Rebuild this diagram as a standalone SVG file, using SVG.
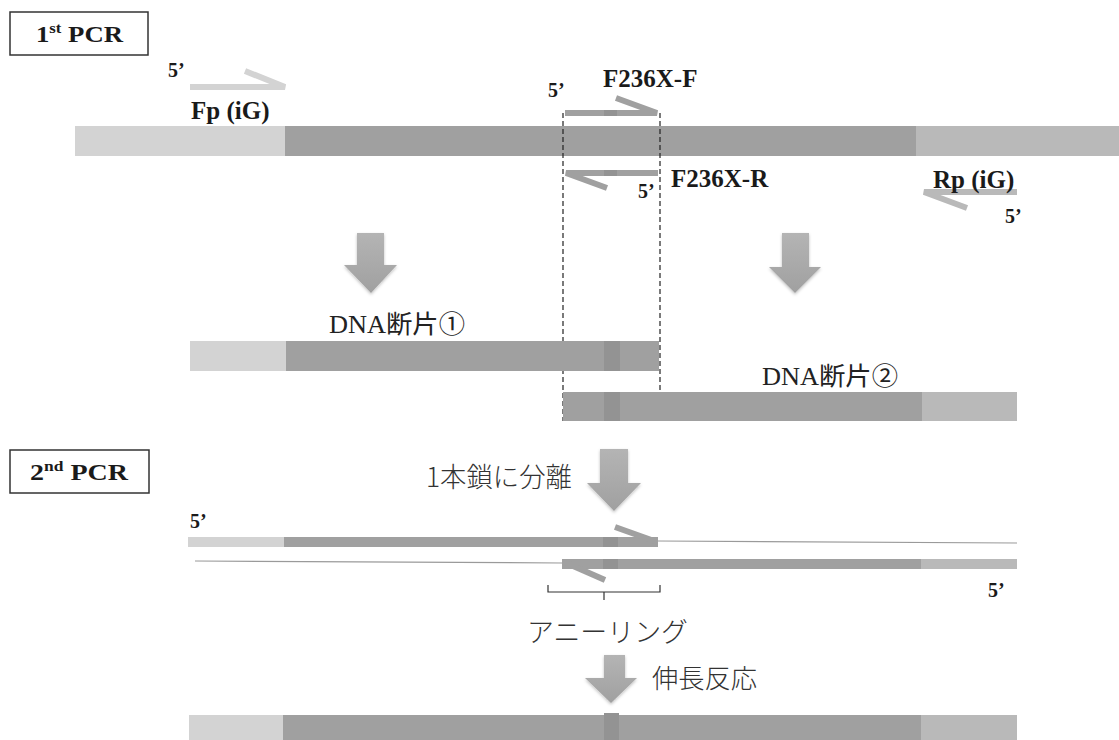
<svg xmlns="http://www.w3.org/2000/svg" width="1119" height="740" viewBox="0 0 1119 740">
<style>
.b{font-family:"Liberation Serif","Times New Roman",serif;font-weight:bold;fill:#1a1a1a}
.r{font-family:"Liberation Serif","Noto Sans CJK JP",serif;fill:#222}
.j{font-family:"Noto Sans CJK JP","Noto Sans",sans-serif;font-weight:300;fill:#333}
.box{fill:#fff;stroke:#333;stroke-width:1.5}
.lt{fill:#d3d3d3}.dk{fill:#a0a0a0}.md{fill:#b9b9b9}.pt{fill:#939393}
.pr{fill:none;stroke-width:6;stroke-linejoin:miter}
.dash{stroke:#222;stroke-width:1.2;stroke-dasharray:5 3;fill:none}
.thin{stroke:#9a9a9a;stroke-width:1.2;fill:none}
.arr{fill:url(#ag);filter:url(#sh)}
</style>
<defs>
<linearGradient id="ag" x1="0" y1="0" x2="0" y2="1">
<stop offset="0" stop-color="#b4b4b4"/><stop offset="1" stop-color="#a0a0a0"/>
</linearGradient>
<filter id="sh" x="-20%" y="-20%" width="140%" height="140%">
<feDropShadow dx="0" dy="1.5" stdDeviation="1.5" flood-color="#000" flood-opacity="0.25"/>
</filter>
</defs>

<g id="label-1st">
<rect class="box" x="10" y="12" width="138" height="43"/>
<text class="b" x="36" y="42" font-size="24" textLength="87" lengthAdjust="spacingAndGlyphs">1<tspan font-size="15" dy="-9">st</tspan><tspan dy="9"> PCR</tspan></text>
</g>

<g id="template">
<rect class="lt" x="75" y="126" width="210" height="30"/>
<rect class="dk" x="285" y="126" width="631" height="30"/>
<rect class="md" x="916" y="126" width="203" height="30"/>
</g>

<g id="primer-Fp">
<path class="pr" stroke="#d3d3d3" d="M190,87 H285 L245,71"/>
<text class="b" x="168" y="77" font-size="20">5’</text>
<text class="b" x="191" y="119" font-size="25">Fp (iG)</text>
</g>

<g id="primer-F236X-F">
<path class="pr" stroke="#a0a0a0" d="M565,113 H657 L616,98"/>
<rect class="pt" x="604" y="110" width="13" height="6"/>
<text class="b" x="548" y="97" font-size="20">5’</text>
<text class="b" x="603" y="87" font-size="25">F236X-F</text>
</g>

<g id="primer-F236X-R">
<path class="pr" stroke="#a0a0a0" d="M658,173 H566 L607,188"/>
<rect class="pt" x="604" y="170" width="13" height="6"/>
<text class="b" x="638" y="198" font-size="20">5’</text>
<text class="b" x="671" y="187" font-size="25">F236X-R</text>
</g>

<g id="primer-Rp">
<path class="pr" stroke="#b9b9b9" d="M1017,192 H924 L967,208"/>
<text class="b" x="933" y="188" font-size="25">Rp (iG)</text>
<text class="b" x="1005" y="223" font-size="20">5’</text>
</g>

<g id="connectors">
<line class="dash" x1="563" y1="113" x2="563" y2="421"/>
<line class="dash" x1="660" y1="113" x2="660" y2="392"/>
<path class="arr" d="M357,233 H384 V265 H397 L371,293 L344,265 H357 Z"/>
<path class="arr" d="M782,233 H809 V267 H821 L795,293 L769,267 H782 Z"/>
<path class="arr" d="M600,449 H628 V483 H641 L614,511 L587,483 H600 Z"/>
<path class="arr" d="M604,655 H625 V678 H637 L611,703 L585,678 H604 Z"/>
</g>

<g id="fragment-1">
<rect class="lt" x="190" y="341" width="96" height="30"/>
<rect class="dk" x="286" y="341" width="373" height="30"/>
<rect class="pt" x="604" y="341" width="16" height="30"/>
<text class="r" x="329" y="333" font-size="25" textLength="136" lengthAdjust="spacingAndGlyphs">DNA断片①</text>
</g>

<g id="fragment-2">
<rect class="dk" x="563" y="392" width="359" height="29"/>
<rect class="md" x="922" y="392" width="95" height="29"/>
<rect class="pt" x="604" y="392" width="16" height="29"/>
<text class="r" x="762" y="385" font-size="25" textLength="136" lengthAdjust="spacingAndGlyphs">DNA断片②</text>
</g>

<g id="label-2nd">
<rect class="box" x="10" y="450" width="139" height="43"/>
<text class="b" x="30" y="480" font-size="24" textLength="98" lengthAdjust="spacingAndGlyphs">2<tspan font-size="15" dy="-9">nd</tspan><tspan dy="9"> PCR</tspan></text>
</g>

<g id="step-separate">
<text class="j" x="426" y="487" font-size="27" textLength="146" lengthAdjust="spacingAndGlyphs">1本鎖に分離</text>
</g>

<g id="strand-top">
<text class="b" x="190" y="528" font-size="20">5’</text>
<rect class="lt" x="188" y="537" width="96" height="10"/>
<rect class="dk" x="284" y="537" width="374" height="10"/>
<rect class="pt" x="603" y="537" width="15" height="10"/>
<path class="pr" stroke="#a0a0a0" d="M657,542 L615,527"/>
<path class="thin" d="M658,541 L1017,543"/>
</g>

<g id="strand-bottom">
<path class="thin" d="M195,561 L562,563"/>
<rect class="dk" x="562" y="559" width="359" height="10"/>
<rect class="md" x="921" y="559" width="96" height="10"/>
<rect class="pt" x="603" y="559" width="15" height="10"/>
<path class="pr" stroke="#a0a0a0" d="M564,562 L605,580"/>
<text class="b" x="988" y="597" font-size="20">5’</text>
</g>

<g id="annealing">
<path d="M548,585 V592 H660 V585 M604,592 V600" fill="none" stroke="#333" stroke-width="1.2"/>
<text class="j" x="527" y="642" font-size="27" textLength="161" lengthAdjust="spacingAndGlyphs">アニーリング</text>
</g>

<g id="step-extend">
<text class="j" x="652" y="688" font-size="26" textLength="105" lengthAdjust="spacingAndGlyphs">伸長反応</text>
</g>

<g id="product">
<rect class="lt" x="189" y="715" width="94" height="30"/>
<rect class="dk" x="283" y="715" width="638" height="30"/>
<rect class="md" x="921" y="715" width="96" height="30"/>
<rect class="pt" x="604" y="713" width="15" height="32"/>
</g>
</svg>
